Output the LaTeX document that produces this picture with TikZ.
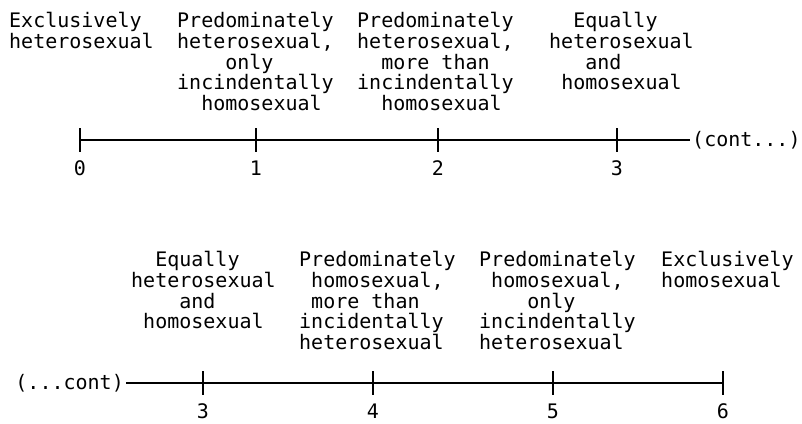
\documentclass[tikz,border=0pt]{standalone}
\usepackage{fontspec}
\setmonofont{DejaVu Sans Mono}
\usetikzlibrary{positioning}
% leading blanks, counted in characters of the mono font
\newcommand{\gap}[1]{\hspace*{#1\fontcharwd\font`\0}}

\begin{document}
\begin{tikzpicture}[x=1pt,y=-1pt,
		every node/.style={font=\ttfamily\fontsize{20}{20.8}\selectfont, inner sep=0pt},
		desc/.style={align=left, anchor=north west},
		scaleline/.style={line width=1.6pt}]
			\useasboundingbox (0,0) rectangle (802,423);
			\def\ticklen{12};
			% upper half of the scale
			\coordinate (a0) at (80,140);
			\coordinate (a1) at (256,140);
			\coordinate (a2) at (438,140);
			\coordinate (a3) at (617,140);
			\node[anchor=west, inner xsep=2pt] (rcont) at (690,140) {(cont...)};
			\draw[scaleline] (a0) -- (rcont.west);
			\foreach \i in {0,...,3}{
				\draw[scaleline] ([yshift=\ticklen pt]a\i) -- ([yshift=-\ticklen pt]a\i);
				\node[anchor=base] (n\i) at ([yshift=-35pt]a\i) {\i};
			}
			\node[desc] (d0) at (9,12) {Exclusively\\heterosexual};
			\node[desc] (d1) at (177,12) {Predominately\\heterosexual,\\\gap{4}only\\incindentally\\\gap{2}homosexual};
			\node[desc] (d2) at (357,12) {Predominately\\heterosexual,\\\gap{2}more than\\incindentally\\\gap{2}homosexual};
			\node[desc] (d3) at (549,12) {\gap{2}Equally\\heterosexual\\\gap{3}and\\\gap{1}homosexual};
			% lower half of the scale
			\coordinate (b3) at (203,383);
			\coordinate (b4) at (373,383);
			\coordinate (b5) at (553,383);
			\coordinate (b6) at (723,383);
			\node[anchor=east, inner xsep=2pt] (lcont) at (126,383) {(...cont)};
			\draw[scaleline] (lcont.east) -- (b6);
			\foreach \i in {3,...,6}{
				\draw[scaleline] ([yshift=\ticklen pt]b\i) -- ([yshift=-\ticklen pt]b\i);
				\node[anchor=base] (m\i) at ([yshift=-35pt]b\i) {\i};
			}
			\node[desc] (e3) at (131,251) {\gap{2}Equally\\heterosexual\\\gap{4}and\\\gap{1}homosexual};
			\node[desc] (e4) at (299,251) {Predominately\\\gap{1}homosexual,\\\gap{1}more than\\incidentally\\heterosexual};
			\node[desc] (e5) at (479,251) {Predominately\\\gap{1}homosexual,\\\gap{4}only\\incindentally\\heterosexual};
			\node[desc] (e6) at (661,251) {Exclusively\\homosexual};
\end{tikzpicture}
\end{document}
